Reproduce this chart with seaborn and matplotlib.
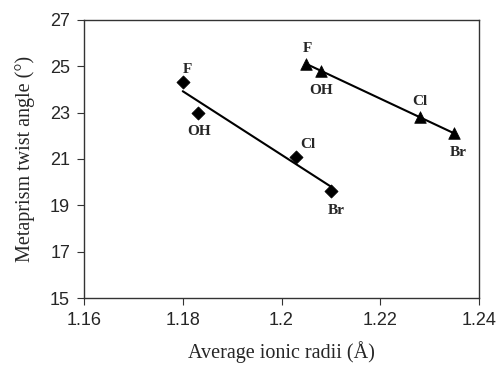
import pandas as pd
import seaborn as sns
import matplotlib.pyplot as plt

# values
anions = ["F", "OH", "Cl", "Br"]
radii_diamond = [1.180, 1.183, 1.203, 1.210]
twist_diamond = [24.3, 23.0, 21.1, 19.6]
radii_triangle = [1.205, 1.208, 1.228, 1.235]
twist_triangle = [25.1, 24.8, 22.8, 22.1]

# label offsets (points) for each anion tag
offs_diamond = [(3, 9), (1, -14), (8, 9), (4, -14)]
offs_triangle = [(1, 11), (0, -14), (0, 11), (3, -14)]

sns.set_style("ticks")
plt.rcParams["font.family"] = ["Liberation Sans", "DejaVu Sans"]

df_d = pd.DataFrame({"radius": radii_diamond, "twist": twist_diamond, "anion": anions})
df_t = pd.DataFrame({"radius": radii_triangle, "twist": twist_triangle, "anion": anions})

fig = plt.figure(figsize=(5, 3.67), dpi=100)
ax = fig.add_axes([0.168, 0.188, 0.79, 0.758])

for df, mk, ms, offs in [(df_d, "D", 45, offs_diamond), (df_t, "^", 70, offs_triangle)]:
    sns.regplot(data=df, x="radius", y="twist", ax=ax, scatter=False, ci=None,
                color="black", line_kws={"lw": 1.5})
    sns.scatterplot(data=df, x="radius", y="twist", ax=ax, marker=mk, s=ms,
                    color="black", edgecolor="black", linewidth=0.5, zorder=3)
    for (x, y, lab), off in zip(df[["radius", "twist", "anion"]].values, offs):
        ax.annotate(lab, (x, y), xytext=off, textcoords="offset points",
                    ha="center", va="center", fontsize=11, fontweight="bold",
                    family="Liberation Serif")

ax.set_xlim(1.16, 1.24)
ax.set_ylim(15, 27)
ax.set_xticks([1.16, 1.18, 1.20, 1.22, 1.24])
ax.set_xticklabels(["1.16", "1.18", "1.2", "1.22", "1.24"])
ax.set_yticks(range(15, 28, 2))
ax.tick_params(labelsize=13, length=5, width=0.8, color="#333333", pad=5)
for sp in ax.spines.values():
    sp.set_visible(True)
    sp.set_color("#333333")
    sp.set_linewidth(1.0)

ax.set_xlabel("Average ionic radii (Å)", fontsize=14.5, family="Liberation Serif", labelpad=9)
ax.set_ylabel("Metaprism twist angle (°)", fontsize=14.5, family="Liberation Serif", labelpad=11)

fig.savefig("out.png", dpi=100)
